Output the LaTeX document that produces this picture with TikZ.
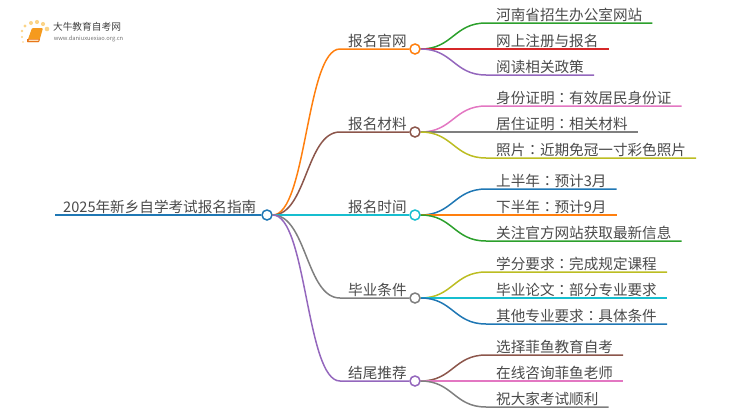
\documentclass[tikz,border=0pt]{standalone}
\usepackage{fontspec}
\setmainfont{Noto Sans CJK SC}
\newfontfamily\colonfont{Noto Sans CJK TC}
\newcommand{\cl}{{\colonfont ：}}
\definecolor{cblue}{HTML}{1F77B4}
\definecolor{corange}{HTML}{FF7F0E}
\definecolor{cgreen}{HTML}{2CA02C}
\definecolor{cred}{HTML}{D62728}
\definecolor{cpurple}{HTML}{9467BD}
\definecolor{cbrown}{HTML}{8C564B}
\definecolor{cpink}{HTML}{E377C2}
\definecolor{cgray}{HTML}{7F7F7F}
\definecolor{colive}{HTML}{BCBD22}
\definecolor{ccyan}{HTML}{17BECF}
\definecolor{labelgray}{HTML}{4A4A4A}
\definecolor{logodot}{HTML}{FBD488}
\definecolor{logobook}{HTML}{F59A1E}
\definecolor{logoedge}{HTML}{E8761A}
\tikzset{
    label text/.style={anchor=south west, inner ysep=1.2pt, inner xsep=8pt, text=labelgray, font=\fontsize{14.6}{14.6}\selectfont},
    leaf/.style={label text, inner xsep=10pt},
    hub/.style={circle, draw=#1, fill=white, line width=1.5pt, minimum size=10pt, inner sep=0pt},
    link/.style={draw=#1, line width=1.5pt},
}
\newcommand{\swing}[3]{\draw[link=#3] (#1.east) .. controls ([xshift=32pt]#1.east) and ([xshift=-32pt]#2.south west) .. (#2.south west) -- (#2.south east);}
\newcommand{\limb}[4]{\draw[link=#4] (#1.east) .. controls ([xshift=34pt]#1.east) and ([xshift=-34pt]#2.south west) .. (#2.south west) -- (#3.west);}

\begin{document}
\begin{tikzpicture}[x=1pt, y=-1pt]
\useasboundingbox (0,0) rectangle (750,410);

% logo
\foreach \px/\py/\pr in {23/42/0.9, 22/37/1.1, 22/31/1.4, 25/26/1.7, 31/23/2, 37/22/2.1, 43/24/2.1, 47/29/2.3}
    \fill[logodot] (\px,\py) circle (\pr);
\fill[logobook, rounded corners=1pt] (32,28) -- (43,28) -- (39,42) -- (27,42) -- cycle;
\fill[logoedge] (27,39) -- (39.8,39) -- (39,42) -- (27,42) -- cycle;
\fill[white!70!logobook] (29,39.6) -- (38.6,39.6) -- (38.3,40.8) -- (28.7,40.8) -- cycle;
\node[inner sep=0pt, text=black!75, font=\fontsize{9.7}{10}\selectfont] (logotitle) at (87,27) {大牛教育自考网};
\node[inner sep=0pt, text=black!55, font=\fontsize{5.75}{6}\selectfont] (logourl) at (88.5,39) {www.daniuxuexiao.org.cn};

% root
\node[hub=cblue] (root) at (267,215) {};
\node[label text] (roottext) at (55,215) {2025年新乡自学考试报名指南};
\draw[link=cblue] (roottext.south west) -- (root.west);

% first level
\node[hub=corange] (site) at (415,49) {};
\node[hub=cbrown] (material) at (415,132) {};
\node[hub=ccyan] (time) at (415,215) {};
\node[hub=cgray] (finish) at (415,298) {};
\node[hub=cpurple] (closing) at (415,381) {};
\node[label text] (sitetext) at (340,49) {报名官网};
\node[label text] (materialtext) at (340,132) {报名材料};
\node[label text] (timetext) at (340,215) {报名时间};
\node[label text] (finishtext) at (340,298) {毕业条件};
\node[label text] (closingtext) at (340,381) {结尾推荐};
\limb{root}{sitetext}{site}{corange}
\limb{root}{materialtext}{material}{cbrown}
\limb{root}{timetext}{time}{ccyan}
\limb{root}{finishtext}{finish}{cgray}
\limb{root}{closingtext}{closing}{cpurple}

% second level
\node[leaf] (henan) at (486,23) {河南省招生办公室网站};
\node[leaf] (signup) at (486,49) {网上注册与报名};
\node[leaf] (policy) at (486,75) {阅读相关政策};
\node[leaf] (idcard) at (486,106) {身份证明\cl 有效居民身份证};
\node[leaf] (resid) at (486,132) {居住证明\cl 相关材料};
\node[leaf] (photo) at (486,158) {照片\cl 近期免冠一寸彩色照片};
\node[leaf] (first) at (486,189) {上半年\cl 预计3月};
\node[leaf] (second) at (486,215) {下半年\cl 预计9月};
\node[leaf] (news) at (486,241) {关注官方网站获取最新信息};
\node[leaf] (credit) at (486,272) {学分要求\cl 完成规定课程};
\node[leaf] (thesis) at (486,298) {毕业论文\cl 部分专业要求};
\node[leaf] (other) at (486,324) {其他专业要求\cl 具体条件};
\node[leaf] (choose) at (486,355) {选择菲鱼教育自考};
\node[leaf] (consult) at (486,381) {在线咨询菲鱼老师};
\node[leaf] (wish) at (486,407) {祝大家考试顺利};
\swing{site}{henan}{cgreen}
\swing{site}{signup}{cred}
\swing{site}{policy}{cpurple}
\swing{material}{idcard}{cpink}
\swing{material}{resid}{cgray}
\swing{material}{photo}{colive}
\swing{time}{first}{cblue}
\swing{time}{second}{corange}
\swing{time}{news}{cgreen}
\swing{finish}{credit}{colive}
\swing{finish}{thesis}{ccyan}
\swing{finish}{other}{cblue}
\swing{closing}{choose}{cbrown}
\swing{closing}{consult}{cpink}
\swing{closing}{wish}{cgray}
\end{tikzpicture}
\end{document}
